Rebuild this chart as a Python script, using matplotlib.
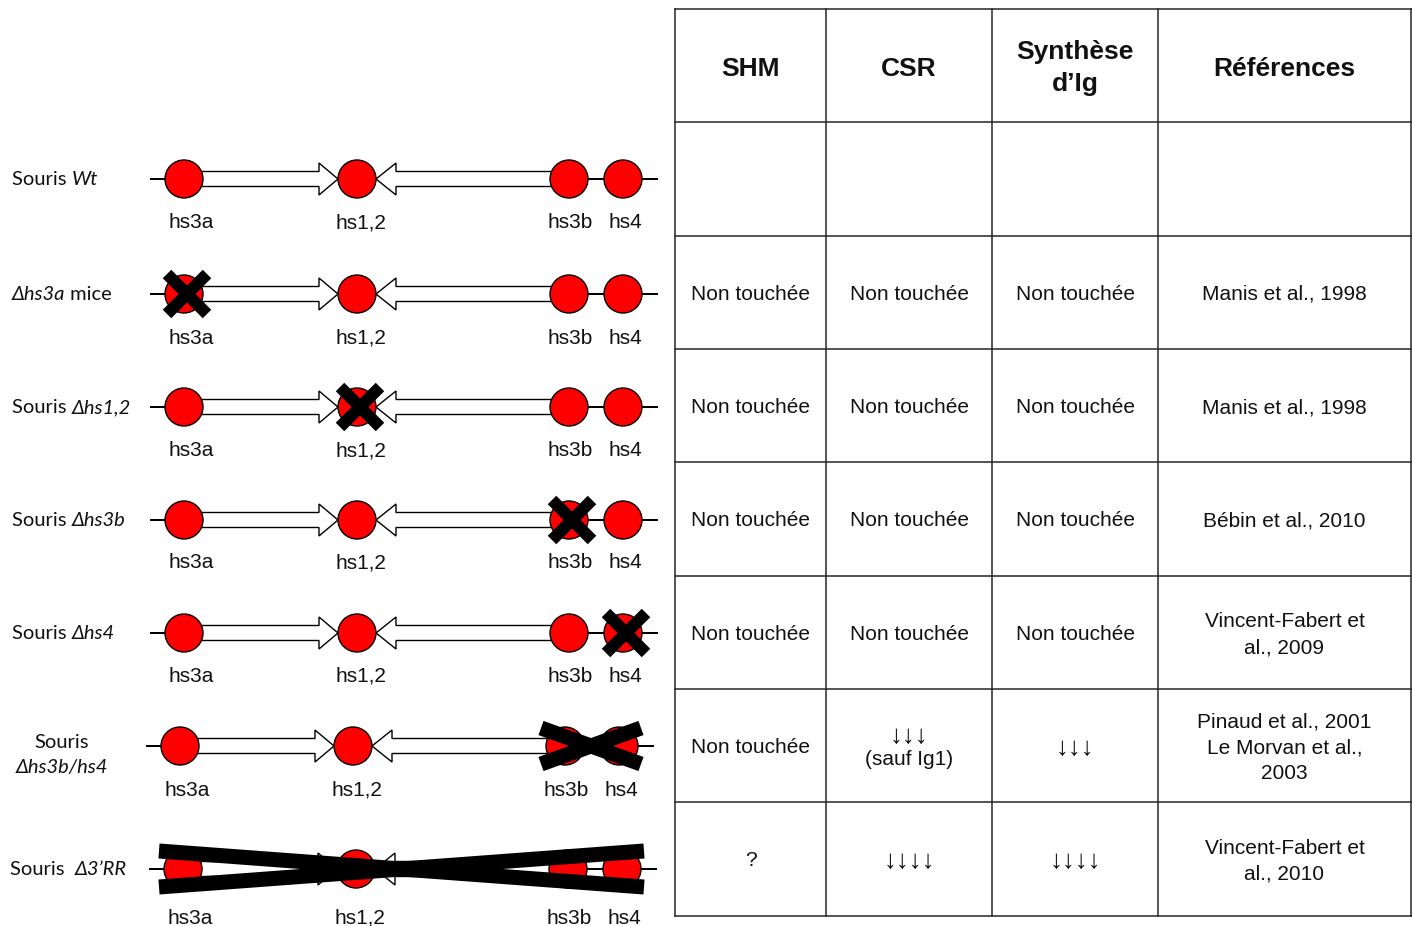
import matplotlib.pyplot as plt
from matplotlib.patches import Circle, Polygon

# ---- diagram data (left part) ----
row_y = [179, 294, 407, 520, 633, 746, 869]
row_dx = [0, 0, 0, 0, 0, -4, -1]
enh_x = [184, 357, 569, 623]
enh_names = ["hs3a", "hs1,2", "hs3b", "hs4"]
name_x = [191, 361, 570, 625]
name_dy = [42, 42, 42, 41, 41, 42, 47]
deleted = [[], [0], [1], [2], [3], [2, 3], [0, 1, 2, 3]]

# label parts: (text, italic)
labels = [
    [("Souris ", False), ("Wt", True)],
    [("\u0394hs3a", True), (" mice", False)],
    [("Souris ", False), ("\u0394hs1,2", True)],
    [("Souris ", False), ("\u0394hs3b", True)],
    [("Souris ", False), ("\u0394hs4", True)],
    None,
    [("Souris  ", False), ("\u03943\u2019RR", True)],
]

# ---- table data (right part) ----
headers = ["SHM", "CSR", "Synthèse\nd\u2019Ig", "Références"]
shm = ["", "Non touchée", "Non touchée", "Non touchée", "Non touchée", "Non touchée", "?"]
csr = ["", "Non touchée", "Non touchée", "Non touchée", "Non touchée",
       "\u2193\u2193\u2193\n(sauf Ig1)", "\u2193\u2193\u2193\u2193"]
synth = ["", "Non touchée", "Non touchée", "Non touchée", "Non touchée",
         "\u2193\u2193\u2193", "\u2193\u2193\u2193\u2193"]
refs = ["", "Manis et al., 1998", "Manis et al., 1998", "Bébin et al., 2010",
        "Vincent-Fabert et\nal., 2009",
        "Pinaud et al., 2001\nLe Morvan et al.,\n2003",
        "Vincent-Fabert et\nal., 2010"]

col_x = [675, 826, 992, 1158, 1411]
line_y = [9, 122, 236, 349, 462, 576, 689, 802, 916]

W, H = 1412, 926
fig = plt.figure(figsize=(W / 100, H / 100), dpi=100)
ax = fig.add_axes([0, 0, 1, 1])
ax.set_xlim(0, W)
ax.set_ylim(H, 0)
ax.axis('off')

PX = 0.72  # points per pixel
lab_font = ['Lato', 'DejaVu Sans']
arial = 'Liberation Sans'
r = 19

for i, y in enumerate(row_y):
    dx = row_dx[i]
    xs = [x + dx for x in enh_x]
    # backbone
    ax.plot([xs[0] - 33, xs[3] + 34], [y, y], color='black', lw=2 * PX, zorder=1)
    # right arrow hs3a -> hs1,2
    x0, x1 = xs[0], xs[1] - r
    hx = x1 - 19
    ax.add_patch(Polygon([(x0, y - 7.5), (hx, y - 7.5), (hx, y - 16), (x1, y),
                          (hx, y + 16), (hx, y + 7.5), (x0, y + 7.5)],
                         closed=True, fc='white', ec='black', lw=1, zorder=2))
    # left arrow hs3b -> hs1,2
    x0, x1 = xs[2], xs[1] + r
    hx = x1 + 20
    ax.add_patch(Polygon([(x0, y - 7.5), (hx, y - 7.5), (hx, y - 16), (x1, y),
                          (hx, y + 16), (hx, y + 7.5), (x0, y + 7.5)],
                         closed=True, fc='white', ec='black', lw=1, zorder=2))
    for x in xs:
        ax.add_patch(Circle((x, y), r, fc='#ff0000', ec='black', lw=1, zorder=3))
    for j, nm in enumerate(enh_names):
        ax.text(name_x[j] + dx, y + name_dy[i] + 2, nm, ha='center', va='center',
                fontsize=15, family=arial, color='#111111')
    # deletions
    d = deleted[i]
    if len(d) == 1:
        cx, d0, w = xs[d[0]] + 3, 20, 12
        ax.plot([cx - d0, cx + d0], [y - d0, y + d0], color='black', lw=w * PX,
                solid_capstyle='butt', zorder=4)
        ax.plot([cx - d0, cx + d0], [y + d0, y - d0], color='black', lw=w * PX,
                solid_capstyle='butt', zorder=4)
    elif len(d) > 1:
        xa, xb = xs[d[0]] - 24, xs[d[-1]] + 22
        ax.plot([xa, xb], [y - 18, y + 18], color='black', lw=15 * PX,
                solid_capstyle='butt', zorder=4)
        ax.plot([xa, xb], [y + 18, y - 18], color='black', lw=15 * PX,
                solid_capstyle='butt', zorder=4)

# left labels with mixed italic
renderer = fig.canvas.get_renderer()
for i, parts in enumerate(labels):
    y = row_y[i]
    if parts is None:
        ax.text(62, y - 4, "Souris", ha='center', va='center', fontsize=14.5,
                family=lab_font, color='#111111')
        ax.text(62, y + 22, "\u0394hs3b/hs4", ha='center', va='center', fontsize=14.5,
                family=lab_font, style='italic', color='#111111')
        continue
    x = 12 if i != 6 else 10
    for txt, it in parts:
        t = ax.text(x, y + 6, txt, ha='left', va='baseline', fontsize=14.5,
                    family=lab_font, style='italic' if it else 'normal',
                    color='#111111')
        bb = t.get_window_extent(renderer)
        x += bb.width

# table grid
for x in col_x:
    ax.plot([x, x], [line_y[0], line_y[-1]], color='#222222', lw=1.5 * PX, zorder=1)
for y in line_y:
    ax.plot([col_x[0], W], [y, y], color='#222222', lw=1.5 * PX, zorder=1)


def cell_text(x, y, s, size, step, **kw):
    lines = s.split('\n')
    n = len(lines)
    for k, ln in enumerate(lines):
        fs = 18.5 if set(ln) == {'\u2193'} else size
        ax.text(x, y + (k - (n - 1) / 2) * step, ln, ha='center', va='center',
                fontsize=fs, family=arial, color='#111111', **kw)


cx = [(col_x[k] + col_x[k + 1]) / 2 for k in range(4)]
cy = [(line_y[k] + line_y[k + 1]) / 2 for k in range(8)]
for k, h in enumerate(headers):
    cell_text(cx[k], cy[0] + 3, h, 19, 32, weight='bold')
for j in range(7):
    for k, col in enumerate([shm, csr, synth, refs]):
        s = col[j]
        if s:
            cell_text(cx[k], cy[j + 1] + 2, s, 15, 26 if k == 3 else 24)

fig.savefig('out.png', dpi=100)
